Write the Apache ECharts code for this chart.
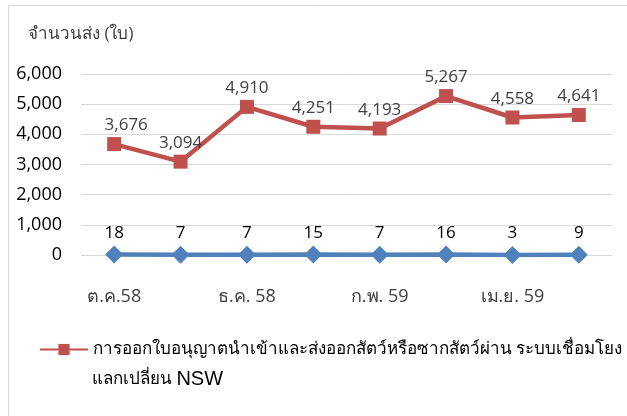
<!DOCTYPE html>
<html><head><meta charset="utf-8">
<script src="https://cdn.jsdelivr.net/npm/echarts@6/dist/echarts.min.js"></script>
<style>html,body{margin:0;padding:0;background:#fff}#c{width:627px;height:416px}</style>
</head><body><div id="c"></div>
<script>
const categories = ['ต.ค.58','พ.ย.58','ธ.ค. 58','ม.ค.59','ก.พ. 59','มี.ค.59','เม.ย. 59','พ.ค.59'];
const nswPermits = [3676, 3094, 4910, 4251, 4193, 5267, 4558, 4641];
const otherPermits = [18, 7, 7, 15, 7, 16, 3, 9];
const yTicks = [0, 1000, 2000, 3000, 4000, 5000, 6000];
const yTitle = 'จำนวนส่ง (ใบ)';
const legendName = 'การออกใบอนุญาตนำเข้าและส่งออกสัตว์หรือซากสัตว์ผ่าน ระบบเชื่อมโยง';
const legendName2a = 'แลกเปลี่ยน ';
const legendName2b = 'NSW';

const font = '"Open Sans", "Noto Sans", sans-serif';
const chart = echarts.init(document.getElementById('c'));
chart.setOption({
  animation: false,
  textStyle: {fontFamily: font},
  graphic: [
    {type: 'rect', shape: {x: 8.5, y: 5.5, width: 700, height: 500}, style: {fill: 'none', stroke: '#d9d9d9', lineWidth: 1}},
    {type: 'text', left: 28, top: 26, style: {text: yTitle, font: '17px ' + font, fill: '#404040'}},
    {type: 'text', left: 92, top: 369, style: {
      text: '{a|' + legendName2a + '}{b|' + legendName2b + '}',
      rich: {
        a: {fontSize: 17, fontFamily: font, color: '#000'},
        b: {fontSize: 20, fontFamily: '"Liberation Sans", Arial, sans-serif', color: '#000'}
      }
    }}
  ],
  grid: {left: 81, right: 15, top: 74, bottom: 161, containLabel: false},
  legend: {
    data: [legendName],
    left: 34, top: 336,
    itemWidth: 48, itemHeight: 14,
    itemGap: 10,
    textStyle: {fontSize: 17, color: '#000', fontFamily: font}
  },
  xAxis: {
    type: 'category', data: categories, boundaryGap: true,
    axisLine: {show: false}, axisTick: {show: false},
    axisLabel: {interval: 1, fontSize: 18, color: '#404040', margin: 33}
  },
  yAxis: {
    type: 'value', min: yTicks[0], max: yTicks[yTicks.length-1], interval: 1000,
    axisLine: {show: false}, axisTick: {show: false},
    splitLine: {lineStyle: {color: '#d9d9d9', width: 1}},
    axisLabel: {fontSize: 18, color: '#000', margin: 19,
      formatter: v => v.toLocaleString('en-US')}
  },
  series: [
    {
      name: legendName, type: 'line',
      data: nswPermits.map((v, i) => i === 0 ? {value: v, label: {offset: [12, 0]}} : v),
      symbol: 'rect', symbolSize: 14,
      lineStyle: {color: '#C0504D', width: 4.5},
      itemStyle: {color: '#C0504D'},
      label: {show: true, position: 'top', distance: 3, fontSize: 17, color: '#404040',
        formatter: p => p.value.toLocaleString('en-US')}
    },
    {
      name: 'other', type: 'line', data: otherPermits,
      symbol: 'diamond', symbolSize: 18,
      lineStyle: {color: '#4F81BD', width: 4.5},
      itemStyle: {color: '#4F81BD'},
      label: {show: true, position: 'top', distance: 4, fontSize: 17, color: '#000'}
    }
  ]
});
</script></body></html>
